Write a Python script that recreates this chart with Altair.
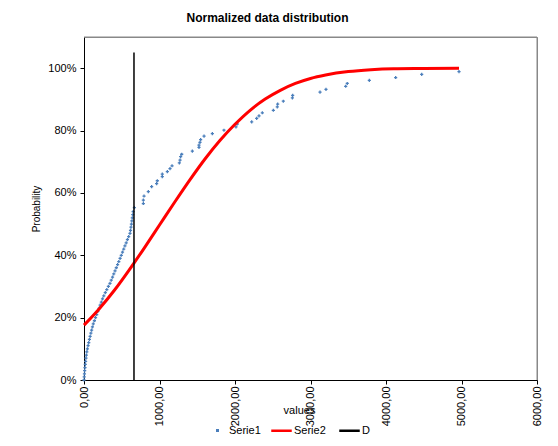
import altair as alt
import pandas as pd

# Serie1: empirical distribution points (value, cumulative probability)
s1_values = [0, 3, 6, 9, 13, 17, 21, 26, 31, 37, 45, 54, 63, 72, 81, 91, 101, 112, 123, 138,
             153, 168, 183, 199, 214, 230, 245, 262, 282, 302, 323, 344, 361, 378, 394, 411, 428,
             445, 461, 478, 494, 510, 526, 542, 559, 575, 592, 609, 616, 622, 628, 634, 640, 646,
             651, 667, 786, 786, 795, 852, 896, 962, 971, 1037, 1037, 1104, 1139, 1166, 1263,
             1272, 1280, 1294, 1435, 1523, 1523, 1536, 1545, 1590, 1700, 1854, 2013, 2030, 2221,
             2287, 2318, 2362, 2508, 2560, 2565, 2640, 2760, 2764, 3126, 3205, 3466, 3487, 3779,
             4128, 4473, 4967]
s1_prob = [0.00, 0.01, 0.02, 0.03, 0.04, 0.05, 0.06, 0.07, 0.08, 0.09, 0.10, 0.11, 0.12, 0.13,
           0.14, 0.15, 0.16, 0.17, 0.18, 0.19, 0.20, 0.21, 0.22, 0.23, 0.24, 0.25, 0.26, 0.27,
           0.28, 0.29, 0.30, 0.31, 0.32, 0.33, 0.34, 0.35, 0.36, 0.37, 0.38, 0.39, 0.40, 0.41,
           0.42, 0.43, 0.44, 0.45, 0.46, 0.47, 0.48, 0.49, 0.50, 0.51, 0.52, 0.53, 0.54, 0.553,
           0.566, 0.577, 0.590, 0.604, 0.620, 0.630, 0.639, 0.652, 0.660, 0.668, 0.678, 0.687,
           0.696, 0.705, 0.716, 0.724, 0.734, 0.746, 0.753, 0.762, 0.771, 0.782, 0.790, 0.801,
           0.812, 0.821, 0.828, 0.839, 0.847, 0.857, 0.865, 0.876, 0.885, 0.894, 0.905, 0.913,
           0.923, 0.932, 0.942, 0.951, 0.961, 0.970, 0.980, 0.989]

# Serie2: fitted curve
s2_values = [0, 200, 400, 662, 800, 1000, 1200, 1400, 1600, 1800, 2000, 2200, 2400, 2600,
             2800, 3000, 3200, 3500, 3800, 4100, 4500, 4967]
s2_prob = [0.176, 0.228, 0.287, 0.375, 0.424, 0.497, 0.570, 0.641, 0.708, 0.768, 0.820, 0.865,
           0.901, 0.929, 0.951, 0.967, 0.978, 0.989, 0.995, 0.998, 0.999, 1.000]

# D: vertical line
d_values = [662, 662]
d_prob = [0.0, 1.05]

point_names = ["Serie1"]
point_colors = ["#4a7ebb"]
line_names = ["Serie2", "D"]
line_colors = ["#ff0000", "#000000"]
line_widths = [3, 1.5]

df1 = pd.DataFrame({"x": s1_values, "y": s1_prob, "series": "Serie1"})
df2 = pd.DataFrame({"x": s2_values + d_values,
                    "y": s2_prob + d_prob,
                    "series": ["Serie2"] * len(s2_values) + ["D"] * len(d_values)})

FONT = "Liberation Sans"
W, H = 453, 343

xscale = alt.Scale(domain=[0, 6000], nice=False, zero=False)
yscale = alt.Scale(domain=[0, 1.1], nice=False)

legend_common = dict(
    title=None,
    orient="none",
    direction="horizontal",
    labelFont=FONT,
    labelFontSize=11,
    labelColor="black",
    columnPadding=8,
    padding=0,
)

fill = alt.Fill(
    "series:N",
    scale=alt.Scale(domain=point_names, range=point_colors),
    legend=alt.Legend(legendX=128, legendY=388, symbolType="square", symbolSize=9,
                      symbolStrokeWidth=0, labelOffset=6, **legend_common),
)

stroke = alt.Stroke(
    "series:N",
    scale=alt.Scale(domain=line_names, range=line_colors),
    legend=alt.Legend(legendX=186, legendY=382, symbolType="stroke", symbolSize=420,
                      symbolStrokeWidth=2.5, labelOffset=1, **legend_common),
)
stroke_width = alt.StrokeWidth(
    "series:N",
    scale=alt.Scale(domain=line_names, range=line_widths),
    legend=None,
)

xaxis = alt.Axis(
    title="values",
    values=[0, 1000, 2000, 3000, 4000, 5000, 6000],
    labelExpr="replace(format(datum.value, '.2f'), '.', ',')",
    labelAngle=-90,
    labelFont=FONT,
    labelFontSize=11,
    labelColor="black",
    tickSize=4,
    tickColor="black",
    domainColor="black",
    labelPadding=2,
    grid=False,
    titleFont=FONT,
    titleFontSize=11,
    titleFontWeight="normal",
    titleColor="black",
    titleX=215,
    titleY=33,
    titleBaseline="alphabetic",
    titleAlign="center",
)
yaxis = alt.Axis(
    title="Probability",
    values=[0, 0.2, 0.4, 0.6, 0.8, 1.0],
    format=".0%",
    labelFont=FONT,
    labelFontSize=11,
    labelColor="black",
    tickSize=4,
    tickColor="black",
    domainColor="black",
    labelPadding=4,
    grid=False,
    titleFont=FONT,
    titleFontSize=10,
    titleFontWeight="normal",
    titleColor="black",
    titleX=-43,
)

x = alt.X("x:Q", scale=xscale, axis=xaxis)
y = alt.Y("y:Q", scale=yscale, axis=yaxis)

# plot-area frame (top and right edges, gray)
frame_top = alt.Chart().mark_rule(color="#888888", strokeWidth=1).encode(y=alt.value(0))
frame_right = alt.Chart().mark_rule(color="#888888", strokeWidth=1).encode(x=alt.value(W))

points = alt.Chart(df1).mark_point(shape="cross", size=10, filled=True, opacity=1,
                                   strokeWidth=0).encode(x=x, y=y, fill=fill)
lines = alt.Chart(df2).mark_line(interpolate="monotone").encode(
    x=x, y=y, stroke=stroke, strokeWidth=stroke_width, detail="series:N")

chart = alt.layer(frame_top, frame_right, points, lines).resolve_scale(
    fill="independent", stroke="independent").properties(
    width=W,
    height=H,
    background="white",
    autosize=alt.AutoSizeParams(type="none"),
    padding={"left": 76, "top": 29, "right": 13, "bottom": 58},
    title=alt.TitleParams(
        "Normalized data distribution",
        font=FONT,
        fontSize=12,
        fontWeight="bold",
        color="black",
        anchor="middle",
        offset=12,
        dx=-43,
    ),
).configure_view(stroke="#888888", strokeWidth=1)

chart.save("out.html", embed_options={"renderer": "svg", "actions": False})
